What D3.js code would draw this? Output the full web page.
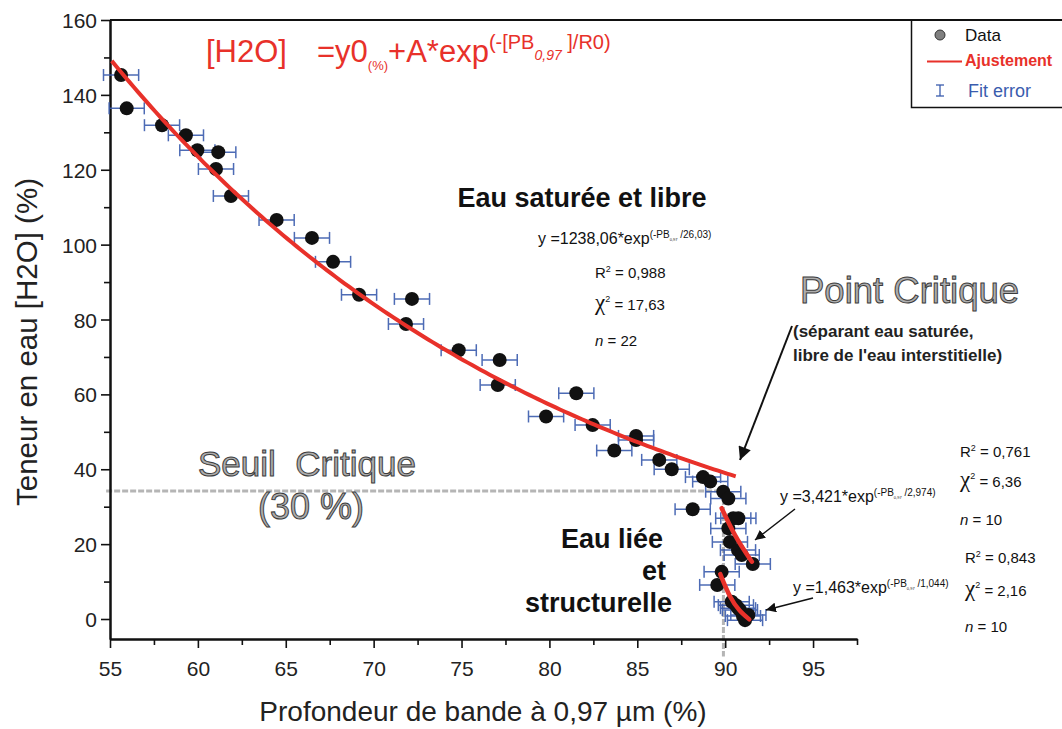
<!DOCTYPE html>
<html><head><meta charset="utf-8">
<script src="https://cdn.jsdelivr.net/npm/d3@7"></script>
<style>
body{margin:0;background:#fff}
svg{display:block}
text{font-family:"Liberation Sans",Arial,Helvetica,sans-serif}
</style>
</head><body>
<svg id="c" width="1062" height="729"></svg>
<script>
// ---------- DATA ----------
// Saturated & free water (n = 22 fit)
const depthSat = [55.63,55.95,57.96,59.32,59.97,61.16,61.03,61.88,64.48,66.49,67.69,69.17,71.84,72.18,74.84,77.17,77.06,81.53,79.81,82.46,84.93,84.93,83.69,86.25,86.96,88.74,89.15,88.15];
const waterSat = [145.3,136.4,131.9,129.2,125.2,124.7,120.2,113.0,106.6,101.8,95.4,86.6,78.8,85.5,71.8,69.2,62.5,60.3,54.1,51.8,48.9,47.8,45.0,42.5,40.0,37.9,36.7,29.3];
// Bound water (n = 10 fit)
const depthBound = [89.89,90.18,90.46,90.75,90.18,90.27,90.73,90.94,91.57];
const waterBound = [34.0,32.2,26.9,26.9,24.2,20.6,18.4,17.1,14.7];
// Structural water (n = 10 fit)
const depthStruct = [89.80,89.55,90.37,90.61,90.84,91.01,91.32,91.13,90.73];
const waterStruct = [12.6,9.1,4.6,3.7,2.4,0.8,1.1,-0.3,2.9];
// Horizontal fit error (half width, % depth)
const depthError = [1.0];
// Fit curves
const fitSatParams = [1238.06, 26.03, 0];          // A, R0, y0
const fitSatRange = [55.1, 90.6];
const fitBoundX = [89.80, 90.56, 91.52];
const fitBoundY = [29.6, 22.4, 15.3];
const fitStructX = [89.72, 90.28, 91.37];
const fitStructY = [12.0, 6.0, -0.1];
// Critical threshold
const criticalWater = [34.2];
const criticalDepth = [89.9];
// Ticks
const xTicks = [55,60,65,70,75,80,85,90,95];
const xMinor = [57.5,62.5,67.5,72.5,77.5,82.5,87.5,92.5,97.5];
const yTicks = [0,20,40,60,80,100,120,140,160];
const yMinor = [10,30,50,70,90,110,130,150];

// ---------- CHART ----------
const svg = d3.select("#c");
const x = d3.scaleLinear().domain([55, 97.5]).range([110, 857]);
const y = d3.scaleLinear().domain([-5.34, 160]).range([639, 20]);

const RED = "#e8312a", BLUE = "#3a5cae";

// frame top line
svg.append("line").attr("x1", 110).attr("x2", 1062).attr("y1", 20).attr("y2", 20)
  .attr("stroke", "#111").attr("stroke-width", 2);

// critical threshold dashed lines
const grey = svg.append("g").attr("stroke", "#b5b5b5").attr("stroke-width", 3)
  .attr("stroke-dasharray", "6,2").attr("fill", "none");
grey.append("line").attr("x1", x(54.78)).attr("x2", x(criticalDepth[0]))
  .attr("y1", y(criticalWater[0])).attr("y2", y(criticalWater[0]));
grey.append("line").attr("x1", x(criticalDepth[0])).attr("x2", x(criticalDepth[0]))
  .attr("y1", y(criticalWater[0])).attr("y2", y(-10));

// axes
const xAxis = svg.append("g").attr("transform", "translate(0,639)")
  .call(d3.axisBottom(x).tickValues(xTicks).tickSize(9).tickSizeOuter(0).tickPadding(15));
const xAxisMinor = svg.append("g").attr("transform", "translate(0,639)")
  .call(d3.axisBottom(x).tickValues(xMinor).tickSize(6).tickSizeOuter(0).tickFormat(""));
const yAxis = svg.append("g").attr("transform", "translate(110,0)")
  .call(d3.axisLeft(y).tickValues(yTicks).tickSize(9).tickSizeOuter(0).tickPadding(4));
const yAxisMinor = svg.append("g").attr("transform", "translate(110,0)")
  .call(d3.axisLeft(y).tickValues(yMinor).tickSize(6).tickSizeOuter(0).tickFormat(""));
[xAxis, xAxisMinor, yAxis, yAxisMinor].forEach(g => {
  g.select(".domain").attr("stroke", "#111").attr("stroke-width", 2);
  g.selectAll(".tick line").attr("stroke", "#111").attr("stroke-width", 1.6);
  g.selectAll(".tick text").attr("font-size", 21).attr("fill", "#222")
    .attr("font-family", "Liberation Sans, Arial, sans-serif");
});
xAxis.selectAll(".tick text").attr("dy", null).attr("y", 676 - 639);
yAxis.selectAll(".tick text").attr("dy", "0.36em");

// axis titles
svg.append("text").attr("x", 483).attr("y", 721).attr("text-anchor", "middle")
  .attr("font-size", 28).attr("fill", "#222").text("Profondeur de bande à 0,97 µm (%)");
svg.append("text").attr("transform", "translate(37,342) rotate(-90)").attr("text-anchor", "middle")
  .attr("font-size", 29.5).attr("fill", "#222").text("Teneur en eau [H2O] (%)");

// data rows
const rows = [];
depthSat.forEach((d, i) => rows.push({x: d, y: waterSat[i]}));
depthBound.forEach((d, i) => rows.push({x: d, y: waterBound[i]}));
depthStruct.forEach((d, i) => rows.push({x: d, y: waterStruct[i]}));

// error bars
const eb = svg.append("g").attr("stroke", BLUE).attr("stroke-width", 1.5).attr("opacity", 0.9);
rows.forEach(r => {
  const e = depthError[0];
  eb.append("line").attr("x1", x(r.x - e)).attr("x2", x(r.x + e)).attr("y1", y(r.y)).attr("y2", y(r.y));
  eb.append("line").attr("x1", x(r.x - e)).attr("x2", x(r.x - e)).attr("y1", y(r.y) - 6).attr("y2", y(r.y) + 6);
  eb.append("line").attr("x1", x(r.x + e)).attr("x2", x(r.x + e)).attr("y1", y(r.y) - 6).attr("y2", y(r.y) + 6);
});

// points
svg.append("g").selectAll("circle").data(rows).join("circle")
  .attr("cx", d => x(d.x)).attr("cy", d => y(d.y)).attr("r", 7).attr("fill", "#111");

// fit curves
const line = d3.line().x(d => x(d[0])).y(d => y(d[1]));
const satPts = d3.range(fitSatRange[0], fitSatRange[1] + 0.001, 0.25)
  .map(v => [v, fitSatParams[2] + fitSatParams[0] * Math.exp(-v / fitSatParams[1])]);
svg.append("path").attr("d", line(satPts)).attr("fill", "none").attr("stroke", RED).attr("stroke-width", 4);
const lineM = d3.line().x(d => x(d[0])).y(d => y(d[1])).curve(d3.curveMonotoneX);
svg.append("path").attr("d", lineM(fitBoundX.map((v, i) => [v, fitBoundY[i]])))
  .attr("fill", "none").attr("stroke", RED).attr("stroke-width", 4.5).attr("stroke-linecap", "round");
svg.append("path").attr("d", lineM(fitStructX.map((v, i) => [v, fitStructY[i]])))
  .attr("fill", "none").attr("stroke", RED).attr("stroke-width", 4.5).attr("stroke-linecap", "round");

// rich text helper
function rich(px, py, parts, opts = {}) {
  const t = svg.append("text").attr("x", px).attr("y", py)
    .attr("fill", opts.fill || "#111").attr("xml:space", "preserve").style("white-space", "pre");
  if (opts.family) t.attr("font-family", opts.family);
  let prev = 0;
  parts.forEach(p => {
    const sh = p.shift || 0;
    const ts = t.append("tspan").attr("font-size", p.s).attr("dy", sh - prev).text(p.t);
    if (p.x !== undefined) ts.attr("x", p.x);
    if (p.italic) ts.attr("font-style", "italic");
    if (p.bold) ts.attr("font-weight", "bold");
    if (p.family) ts.attr("font-family", p.family);
    prev = sh;
  });
  return t;
}

// main formula
rich(206, 62, [
  {t: "[H2O]", s: 31},
  {t: "=y0", s: 31, x: 317},
  {t: "(%)", s: 13, shift: 8},
  {t: "+A*exp", s: 31, shift: 0},
  {t: "(-[PB", s: 20, shift: -13},
  {t: "0,97", s: 14, shift: -2, italic: true},
  {t: " ]/R0)", s: 20, shift: -13}
], {fill: RED});

// headings
svg.append("text").attr("x", 582).attr("y", 207).attr("text-anchor", "middle")
  .attr("font-size", 27).attr("font-weight", "bold").attr("fill", "#111").text("Eau saturée et libre");
[["Eau liée", 663, 548], ["et", 666, 580], ["structurelle", 672, 612]].forEach(a => {
  svg.append("text").attr("x", a[1]).attr("y", a[2]).attr("text-anchor", "end")
    .attr("font-size", 27).attr("font-weight", "bold").attr("fill", "#111").text(a[0]);
});

// outlined labels
function outlined(t, px, py, size) {
  svg.append("text").attr("x", px).attr("y", py).attr("font-size", size)
    .attr("fill", "#adadad").attr("stroke", "#3c3c3c").attr("stroke-width", 1)
    .attr("xml:space", "preserve").style("white-space", "pre").text(t);
}
outlined("Point Critique", 800, 303, 36.5);
outlined("Seuil  Critique", 198, 476, 35);
outlined("(30 %)", 258, 519, 36);

svg.append("text").attr("x", 793).attr("y", 337).attr("font-size", 17).attr("font-weight", "bold")
  .attr("fill", "#222").text("(séparant eau saturée,");
svg.append("text").attr("x", 793).attr("y", 361).attr("font-size", 17).attr("font-weight", "bold")
  .attr("fill", "#222").text("libre de l'eau interstitielle)");

// fit equations and statistics
function eq(px, py, a, r0) {
  rich(px, py, [
    {t: "y =" + a + "*exp", s: 16},
    {t: "(-PB", s: 10, shift: -6},
    {t: "0,97", s: 4, shift: -3},
    {t: " /" + r0 + ")", s: 10, shift: -6}
  ]);
}
eq(538, 244, "1238,06", "26,03");
eq(780, 502, "3,421", "2,974");
eq(793, 593, "1,463", "1,044");

function stats(px, yR, yC, yN, r2, chi, n) {
  rich(px, yR, [{t: "R", s: 15}, {t: "2", s: 9, shift: -6}, {t: " = " + r2, s: 15, shift: 0}]);
  rich(px, yC, [{t: "χ", s: 23, family: "Liberation Serif, serif"}, {t: "2", s: 9, shift: -8}, {t: " = " + chi, s: 15, shift: 0}]);
  rich(px, yN, [{t: "n", s: 15, italic: true}, {t: " = " + n, s: 15}]);
}
stats(595, 278, 310, 346, "0,988", "17,63", "22");
stats(960, 457, 487, 525, "0,761", "6,36", "10");
stats(965, 563, 596, 632, "0,843", "2,16", "10");

// arrows
const defs = svg.append("defs");
defs.append("marker").attr("id", "ah").attr("viewBox", "0 0 10 10").attr("refX", 10).attr("refY", 5)
  .attr("markerWidth", 10).attr("markerHeight", 10).attr("markerUnits", "userSpaceOnUse").attr("orient", "auto")
  .append("path").attr("d", "M0,0 L10,5 L0,10 Z").attr("fill", "#111");
defs.append("marker").attr("id", "ahBig").attr("viewBox", "0 0 10 10").attr("refX", 10).attr("refY", 5)
  .attr("markerWidth", 17).attr("markerHeight", 13).attr("markerUnits", "userSpaceOnUse").attr("orient", "auto")
  .append("path").attr("d", "M0,0 L10,5 L0,10 Z").attr("fill", "#111");
svg.append("line").attr("x1", 792).attr("y1", 326).attr("x2", 740).attr("y2", 460)
  .attr("stroke", "#111").attr("stroke-width", 2).attr("marker-end", "url(#ahBig)");
svg.append("line").attr("x1", 795).attr("y1", 509).attr("x2", 755).attr("y2", 540)
  .attr("stroke", "#111").attr("stroke-width", 1.5).attr("marker-end", "url(#ah)");
svg.append("line").attr("x1", 813).attr("y1", 598).attr("x2", 766).attr("y2", 610)
  .attr("stroke", "#111").attr("stroke-width", 1.5).attr("marker-end", "url(#ah)");

// legend
const lg = svg.append("g");
lg.append("path").attr("d", "M911.5,20 V107.5 H1062").attr("fill", "none").attr("stroke", "#111").attr("stroke-width", 1.5);
lg.append("circle").attr("cx", 940).attr("cy", 35).attr("r", 5).attr("fill", "#808080").attr("stroke", "#333").attr("stroke-width", 1);
lg.append("text").attr("x", 965).attr("y", 41).attr("font-size", 17).attr("fill", "#111").text("Data");
lg.append("line").attr("x1", 927).attr("x2", 962).attr("y1", 61.5).attr("y2", 61.5).attr("stroke", RED).attr("stroke-width", 2);
lg.append("text").attr("x", 965).attr("y", 66).attr("font-size", 16).attr("font-weight", "bold").attr("fill", RED).text("Ajustement");
const lgE = lg.append("g").attr("stroke", BLUE).attr("stroke-width", 1.3);
lgE.append("line").attr("x1", 940).attr("x2", 940).attr("y1", 85).attr("y2", 96);
lgE.append("line").attr("x1", 936).attr("x2", 944).attr("y1", 85).attr("y2", 85);
lgE.append("line").attr("x1", 936).attr("x2", 944).attr("y1", 96).attr("y2", 96);
lg.append("text").attr("x", 968).attr("y", 97).attr("font-size", 18).attr("fill", BLUE).text("Fit error");
</script>
</body></html>
